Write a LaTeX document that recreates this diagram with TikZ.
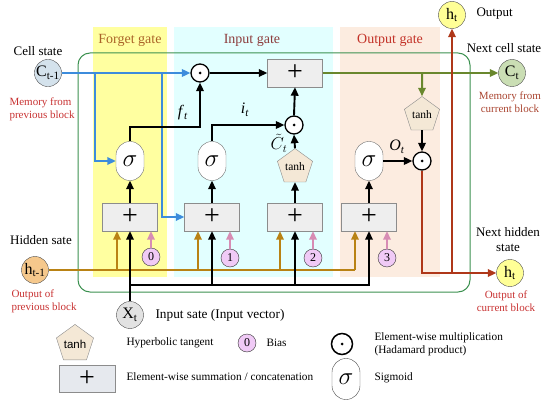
\documentclass[tikz,border=0pt]{standalone}
\usepackage{fontspec}
\setmainfont{Liberation Serif}
\newfontfamily\legsans{Liberation Sans}
\usetikzlibrary{arrows.meta,shapes.geometric}
\definecolor{panY}{RGB}{255,255,160}
\definecolor{panC}{RGB}{226,255,255}
\definecolor{panP}{RGB}{252,236,224}
\definecolor{frameG}{RGB}{60,145,80}
\definecolor{tForget}{RGB}{170,100,40}
\definecolor{tInput}{RGB}{140,60,60}
\definecolor{tOutput}{RGB}{195,50,40}
\definecolor{memRed}{RGB}{200,50,50}
\definecolor{memBrown}{RGB}{170,70,50}
\definecolor{blueL}{RGB}{60,140,220}
\definecolor{goldL}{RGB}{185,130,20}
\definecolor{oliveL}{RGB}{105,135,45}
\definecolor{redL}{RGB}{175,55,25}
\definecolor{pinkL}{RGB}{215,140,180}
\definecolor{boxF}{RGB}{238,238,238}
\definecolor{boxD}{RGB}{140,140,140}
\definecolor{tanhF}{RGB}{244,232,214}
\definecolor{cPrev}{RGB}{212,226,236}
\definecolor{cNext}{RGB}{202,222,180}
\definecolor{hPrev}{RGB}{245,200,140}
\definecolor{hYel}{RGB}{255,255,150}
\definecolor{xFill}{RGB}{226,226,226}
\definecolor{biasF}{RGB}{240,202,246}
\definecolor{legBox}{RGB}{230,233,238}
\begin{document}
\begin{tikzpicture}[x=1pt,y=-1pt,
  font=\fontsize{13}{15}\selectfont,
  gatebox/.style={draw=boxD, fill=boxF, minimum width=55pt, minimum height=28pt, inner sep=0pt, font=\fontsize{28}{28}\selectfont},
  sig/.style={draw=boxD!80!black, fill=white, rounded corners=13.9pt, minimum width=28pt, minimum height=39pt, inner sep=0pt, font=\fontsize{23}{23}\selectfont},
  tanhp/.style={regular polygon, regular polygon sides=5, draw=boxD, fill=tanhF, minimum size=37pt, inner sep=0pt, font=\fontsize{11.5}{12}\selectfont},
  dotc/.style={circle, draw=black, line width=1.3pt, fill=white, minimum size=18pt, inner sep=0pt,
    path picture={\fill[black] (path picture bounding box.center) circle (1.5pt);}},
  cstate/.style={circle, draw=black!70, minimum size=27pt, inner sep=0pt, font=\fontsize{16}{16}\selectfont},
  bias/.style={circle, draw=black!80, fill=biasF, minimum size=18pt, inner sep=0pt, font=\fontsize{12}{12}\selectfont},
  blk/.style={line width=1.9pt, -{Triangle[length=8.5pt,width=7.5pt]}},
  blueA/.style={line width=1.9pt, draw=blueL, -{Triangle[length=8.5pt,width=7.5pt]}},
  goldA/.style={line width=1.9pt, draw=goldL, -{Triangle[length=8.5pt,width=7.5pt]}},
  pinkA/.style={line width=1.9pt, draw=pinkL, -{Triangle[length=8.5pt,width=7.5pt]}},
  oliveA/.style={line width=2pt, draw=oliveL, -{Triangle[length=8.5pt,width=7.5pt]}},
  redA/.style={line width=2pt, draw=redL, -{Triangle[length=8.5pt,width=7.5pt]}},
  lbl/.style={font=\fontsize{16}{16}\selectfont},
  legtxt/.style={anchor=west, font=\fontsize{11.3}{13}\selectfont, align=left},
  redtxt/.style={font=\fontsize{11}{13}\selectfont, align=left}
]
\useasboundingbox (0,0) rectangle (550,404);
% panels
\fill[panY] (93,27) rectangle (167,277);
\fill[panC] (174,27) rectangle (333,277);
\fill[panP] (340,27) rectangle (440,277);
\node[font=\fontsize{14}{16}\selectfont, text=tForget] (tf) at (130,40) {Forget gate};
\node[font=\fontsize{14}{16}\selectfont, text=tInput] (ti) at (252,40) {Input gate};
\node[font=\fontsize{14}{16}\selectfont, text=tOutput] (to) at (390,40) {Output gate};
% frame
\draw[frameG, line width=1pt, rounded corners=12pt] (78,53) rectangle (470,292);
% nodes
\node[cstate, fill=cPrev] (C0) at (48,73) {C\textsubscript{t-1}};
\node[dotc] (fdot) at (200,73) {};
\node[gatebox] (cplus) at (295,73) {+};
\node[cstate, fill=cNext] (Ct) at (512,73) {C\textsubscript{t}};
\node[cstate, fill=hYel] (hout) at (452,15) {h\textsubscript{t}};
\node[dotc] (idot) at (294,125) {};
\node[sig] (fsig) at (130,161) {$\sigma$};
\node[sig] (isig) at (212,161) {$\sigma$};
\node[tanhp] (itanh) at (295,167) {tanh};
\node[sig] (osig) at (369,161) {$\sigma$};
\node[tanhp] (otanh) at (422,115) {tanh};
\node[dotc] (odot) at (422,161) {};
\node[gatebox] (fbox) at (130,217) {+};
\node[gatebox] (ibox) at (212,217) {+};
\node[gatebox] (tbox) at (295,217) {+};
\node[gatebox] (obox) at (369,217) {+};
\node[bias] (b0) at (151,257) {0};
\node[bias] (b1) at (230,258) {1};
\node[bias] (b2) at (313,258) {2};
\node[bias] (b3) at (387,258) {3};
\node[cstate, fill=hPrev] (h0) at (35,270) {h\textsubscript{t-1}};
\node[cstate, fill=hYel] (ht) at (510,273) {h\textsubscript{t}};
\node[cstate, fill=xFill] (X) at (130,315) {X\textsubscript{t}};
% coordinates
\coordinate (bb1) at (95,73);
\coordinate (bb2) at (162,73);
\coordinate (g1) at (117,270);
\coordinate (g2) at (198,270);
\coordinate (g3) at (280,270);
\coordinate (g4) at (355,270);
\coordinate (xj) at (130,285);
\coordinate (ob) at (422,73);
\coordinate (rb) at (452,273);
% blue
\draw[blueA] (C0.east) -- (fdot.west);
\draw[blueA] (bb1) |- (fsig.west);
\draw[blueA] (bb2) |- (ibox.west);
% gold
\draw[line width=1.9pt, draw=goldL] (h0.east) -- (g4);
\draw[goldA] (g1) -- (g1 |- fbox.south);
\draw[goldA] (g2) -- (g2 |- ibox.south);
\draw[goldA] (g3) -- (g3 |- tbox.south);
\draw[goldA] (g4) -- (g4 |- obox.south);
% pink
\draw[pinkA] (b0.north) -- (b0.north |- fbox.south);
\draw[pinkA] (b1.north) -- (b1.north |- ibox.south);
\draw[pinkA] (b2.north) -- (b2.north |- tbox.south);
\draw[pinkA] (b3.north) -- (b3.north |- obox.south);
% black
\draw[blk] (X.north) -- (fbox.south);
\draw[blk] (xj) -| (obox.south);
\draw[blk] (ibox.south |- xj) -- (ibox.south);
\draw[blk] (tbox.south |- xj) -- (tbox.south);
\draw[blk] (fbox.north) -- (fsig.south);
\draw[blk] (ibox.north) -- (isig.south);
\draw[blk] (tbox.north) -- (itanh.south);
\draw[blk] (obox.north) -- (osig.south);
\draw[blk] (fsig.north) -- ++(0,-14) -| (fdot.south);
\draw[blk] (isig.north) |- (idot.west);
\draw[blk] (itanh.north) -- (idot.south);
\draw[blk] (idot.north) -- (cplus.south);
\draw[blk] (fdot.east) -- (cplus.west);
\draw[blk] (otanh.south) -- (odot.north);
\draw[blk] (osig.east) -- (odot.west);
% olive
\draw[oliveA] (cplus.east) -- (Ct.west);
\draw[oliveA] (ob) -- (otanh.north);
% red
\draw[redA] (odot.south) |- (ht.west);
\draw[redA] (rb) -- (hout.south);
% labels on arrows
\node[lbl] (lf) at (183,113) {\textit{f}\textsubscript{\textit{t}}};
\node[lbl] (li) at (245,110) {\textit{i}\textsubscript{\textit{t}}};
\node[lbl] (lc) at (279,143) {$\tilde{C}_t$};
\node[lbl] (lo) at (397,147) {\textit{O}\textsubscript{\textit{t}}};
% side texts
\node (cs) at (38,51) {Cell state};
\node[redtxt, text=memRed, anchor=west] (mp) at (6,109) {Memory from\\previous block};
\node (hs) at (41,240) {Hidden sate};
\node[redtxt, text=memRed, anchor=west] (op) at (8,301) {Output of\\previous block};
\node[anchor=west] (outl) at (473,14) {Output};
\node (ncs) at (504,48) {Next cell state};
\node[redtxt, text=memBrown, align=center] (mc) at (510,102) {Memory from\\current block};
\node[align=center] (nhs) at (508,240) {Next hidden\\state};
\node[redtxt, text=memRed, align=center] (oc) at (506,301) {Output of\\current block};
\node[anchor=west, font=\fontsize{13.3}{15}\selectfont] (xin) at (152,315) {Input sate (Input vector)};
% legend
\node[tanhp, font=\legsans\fontsize{11.5}{12}\selectfont] (ltanh) at (75,344) {tanh};
\node[legtxt] (lt1) at (123,343) {Hyperbolic tangent};
\node[bias] (lb) at (247,343) {0};
\node[legtxt] (lt2) at (263,343) {Bias};
\node[dotc, line width=1.5pt, minimum size=21pt] (ldot) at (342,344) {};
\node[legtxt] (lt3) at (371,344) {Element-wise multiplication\\(Hadamard product)};
\node[gatebox, fill=legBox, minimum width=56pt, minimum height=27pt] (lbox) at (87,379) {+};
\node[legtxt] (lt4) at (123,377) {Element-wise summation / concatenation};
\node[sig, minimum height=41pt, draw=black!70] (lsig) at (346,379) {$\sigma$};
\node[legtxt] (lt5) at (371,378) {Sigmoid};
\end{tikzpicture}
\end{document}
